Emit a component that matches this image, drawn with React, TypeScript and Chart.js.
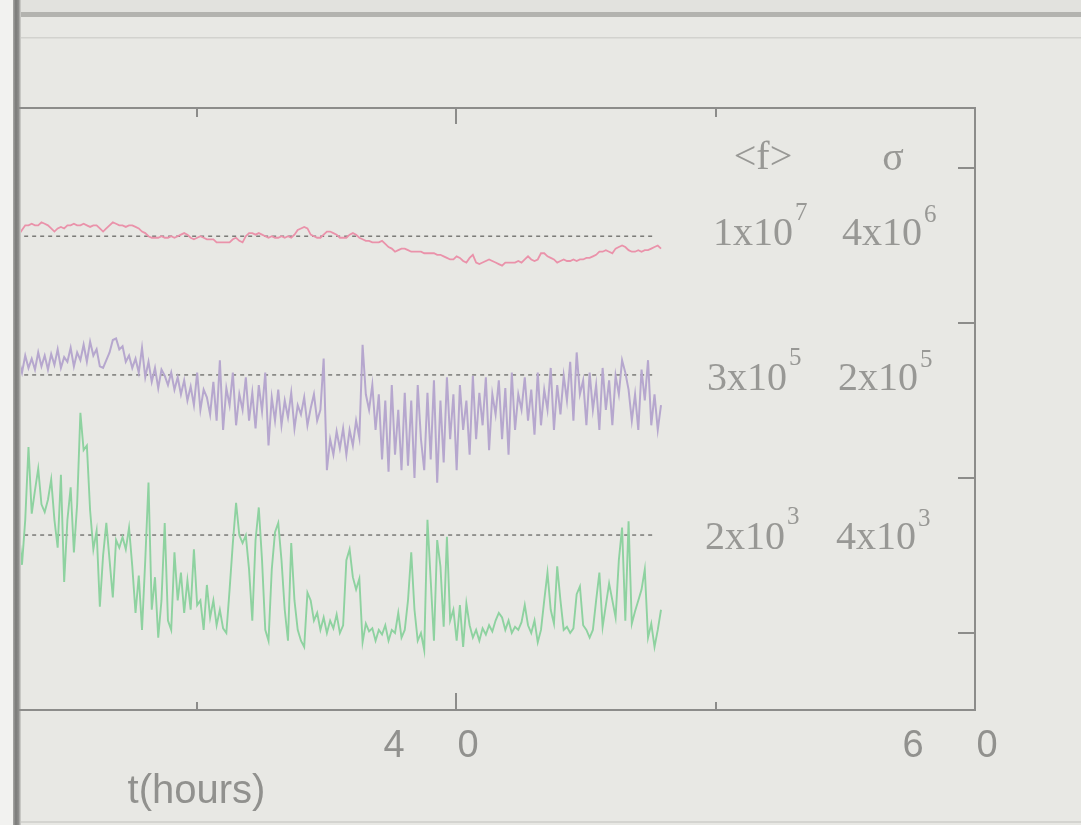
import React, { useEffect, useRef } from "react";
import { Chart, registerables } from "chart.js";

Chart.register(...registerables);

// ---- data (time in hours, values in arbitrary stacked log-flux units) ----
const T_START = 23.15;
const T_STEP = 0.125;

const pinkF = [
  25.7, 26.0, 26.3, 26.3, 26.4, 26.3, 26.3, 26.5, 26.4, 26.3,
  26.1, 25.9, 26.1, 26.2, 26.1, 26.3, 26.3, 26.4, 26.3, 26.3,
  26.4, 26.3, 26.2, 26.3, 26.3, 26.1, 25.9, 26.1, 26.3, 26.5,
  26.4, 26.3, 26.3, 26.2, 26.3, 26.3, 26.2, 26.1, 25.9, 25.8,
  25.6, 25.5, 25.5, 25.5, 25.6, 25.5, 25.5, 25.6, 25.5, 25.6,
  25.7, 25.8, 25.7, 25.5, 25.4, 25.5, 25.6, 25.5, 25.4, 25.4,
  25.4, 25.2, 25.2, 25.2, 25.2, 25.2, 25.4, 25.5, 25.3, 25.2,
  25.6, 25.8, 25.8, 25.7, 25.8, 25.7, 25.6, 25.5, 25.6, 25.5,
  25.5, 25.6, 25.5, 25.6, 25.5, 25.7, 26.0, 26.1, 26.2, 26.1,
  25.7, 25.6, 25.5, 25.5, 25.7, 25.9, 25.9, 25.8, 25.7, 25.5,
  25.5, 25.5, 25.7, 25.8, 25.7, 25.5, 25.4, 25.3, 25.3, 25.2,
  25.2, 25.2, 25.3, 25.1, 24.9, 24.8, 24.6, 24.7, 24.8, 24.8,
  24.7, 24.6, 24.6, 24.6, 24.6, 24.5, 24.5, 24.5, 24.5, 24.4,
  24.4, 24.3, 24.2, 24.1, 24.1, 24.3, 24.2, 24.0, 23.9, 24.2,
  24.4, 23.9, 23.8, 23.9, 24.0, 24.1, 24.0, 23.9, 23.8, 23.7,
  23.9, 23.9, 23.9, 23.9, 24.0, 23.9, 24.1, 24.3, 24.1, 24.0,
  24.1, 24.5, 24.5, 24.3, 24.2, 24.1, 23.9, 24.0, 24.1, 24.0,
  24.0, 24.1, 24.0, 24.1, 24.1, 24.2, 24.2, 24.3, 24.4, 24.6,
  24.6, 24.7, 24.6, 24.5, 24.8, 24.9, 25.0, 24.9, 24.7, 24.6,
  24.6, 24.7, 24.6, 24.7, 24.7, 24.8, 24.9, 25.0, 24.8,
];

const purpleF = [
  17.6, 16.8, 17.9, 17.1, 17.7, 17.0, 18.1, 17.2, 17.9, 17.0,
  18.0, 17.3, 18.3, 17.1, 17.8, 17.5, 18.4, 17.2, 18.1, 17.6,
  18.6, 17.5, 18.8, 17.9, 18.3, 17.2, 17.1, 17.6, 18.1, 18.9,
  19.0, 18.3, 18.5, 17.5, 17.9, 17.1, 17.7, 16.8, 18.4, 16.5,
  17.5, 16.2, 17.1, 15.8, 17.0, 16.6, 16.0, 16.8, 15.7, 16.5,
  15.4, 16.3, 15.0, 15.9, 14.7, 16.8, 14.4, 15.7, 15.2, 14.1,
  16.2, 13.7, 17.6, 13.1, 15.8, 14.7, 16.8, 13.4, 15.4, 14.4,
  16.5, 13.7, 15.5, 13.2, 16.0, 14.3, 16.8, 12.1, 15.2, 13.7,
  15.7, 13.4, 15.0, 13.9, 15.5, 13.2, 14.7, 14.1, 15.2, 13.4,
  14.5, 15.4, 13.7, 14.4, 17.7, 10.5, 12.5, 11.5, 13.0, 11.9,
  13.2, 11.5, 13.1, 12.1, 13.7, 12.6, 18.6, 15.4, 14.4, 16.0,
  13.1, 15.4, 11.2, 15.0, 10.4, 16.0, 11.5, 14.4, 10.5, 15.5,
  10.8, 15.0, 10.0, 16.0, 12.5, 10.5, 15.5, 11.2, 16.3, 9.7,
  15.0, 11.0, 16.5, 12.5, 15.4, 10.5, 16.0, 13.1, 15.0, 11.5,
  16.6, 12.5, 15.5, 13.4, 16.5, 11.8, 15.4, 14.1, 16.3, 12.5,
  15.8, 11.5, 16.8, 13.1, 15.4, 14.4, 16.5, 13.7, 15.7, 12.8,
  16.8, 13.4, 15.7, 14.4, 17.1, 13.1, 16.0, 14.1, 16.6, 15.0,
  17.5, 13.7, 18.1, 15.4, 16.3, 13.4, 16.8, 14.4, 16.0, 13.1,
  17.1, 14.4, 16.3, 13.4, 16.6, 15.4, 17.6, 16.8, 15.7, 13.7,
  15.4, 13.1, 17.0, 15.0, 17.6, 13.4, 15.4, 13.1, 14.7,
];

const greenF = [
  6.6, 4.4, 7.3, 12.0, 7.7, 9.2, 10.6, 8.3, 7.8, 8.6,
  9.9, 7.3, 5.5, 10.2, 3.3, 7.3, 9.4, 5.2, 8.3, 14.2,
  11.8, 12.1, 7.9, 5.4, 6.6, 1.7, 5.0, 7.1, 4.7, 2.3,
  6.0, 5.5, 6.2, 5.4, 6.8, 4.3, 1.3, 3.7, 0.2, 4.7,
  9.7, 1.5, 3.6, -0.3, 2.1, 7.1, 0.8, 0.2, 5.2, 2.1,
  3.9, 1.3, 3.4, 1.5, 5.4, 1.8, 2.1, 0.2, 3.1, 1.0,
  2.1, 0.5, 1.5, 0.3, 0.0, 2.8, 5.8, 8.4, 6.3, 5.8,
  6.3, 4.1, 0.8, 6.0, 8.1, 4.7, 0.2, -0.5, 4.1, 6.5,
  7.1, 4.7, 1.5, -0.5, 5.8, 2.1, 0.2, -0.5, -0.9, 2.6,
  2.1, 0.8, 1.3, 0.2, 1.0, 0.0, 0.8, 0.3, 1.2, 0.0,
  0.5, 4.7, 5.4, 3.6, 2.8, 3.5, -0.6, 0.6, 0.1, 0.3,
  -0.5, 0.2, -0.1, 0.5, -0.5, 0.2, 0.0, 1.3, -0.3, 0.2,
  2.1, 5.2, 1.5, -0.5, 0.0, -1.1, 7.3, 3.4, -0.5, 6.0,
  4.3, 0.4, 6.2, 0.8, 1.5, -0.5, 1.8, -0.9, 1.9, 0.5,
  -0.3, 0.2, -0.5, 0.3, -0.1, 0.5, 0.1, 0.8, 1.3, 1.0,
  0.2, 0.8, 0.0, 0.4, 0.2, 0.7, 1.8, 0.5, 0.0, 0.8,
  -0.6, 0.2, 2.1, 3.9, 1.5, 0.6, 4.3, 2.1, 0.2, 0.4,
  0.0, 0.3, 2.5, 3.0, 0.5, 0.2, -0.3, 0.2, 2.1, 3.9,
  0.4, 1.8, 3.2, 2.1, 1.0, 4.7, 6.8, 0.8, 7.2, 0.6,
  1.4, 2.1, 2.8, 4.1, -0.3, 0.6, -0.9, 0.2, 1.5,
];

// mean levels (dashed reference lines) for each series
const meanLevels = [25.6, 16.65, 6.32];
const meanEndT = 47.67;

// axis ticks
const xMajorTicks = [40, 60];
const xMajorLabels = ["40", "60"];
const xMinorTicks = [30, 50];
const yTicks = [0, 10, 20, 30];
const xTitle = "t(hours)";

// annotation table: mean flux <f> and sigma, mantissa and exponent
const fMantissa = ["1x10", "3x10", "2x10"];
const fExponent = ["7", "5", "3"];
const sMantissa = ["4x10", "2x10", "4x10"];
const sExponent = ["6", "5", "3"];

const COLORS = {
  pink: "rgb(234,146,170)",
  purple: "rgb(182,167,206)",
  green: "rgb(142,210,160)",
  dash: "rgb(105,105,102)",
  axis: "rgb(140,140,138)",
  text: "rgb(152,152,149)",
};

const toPoints = (vals: number[]) =>
  vals.map((v, i) => ({ x: T_START + i * T_STEP, y: v }));

const drawEdge = (ctx: CanvasRenderingContext2D, h: number) => {
  const g = ctx.createLinearGradient(13, 0, 21, 0);
  g.addColorStop(0, "#a8a8a6");
  g.addColorStop(0.35, "#7a7a78");
  g.addColorStop(0.7, "#8e8e8c");
  g.addColorStop(1, "#d6d6d2");
  ctx.fillStyle = g;
  ctx.fillRect(13, 0, 8, h);
};

const paperPlugin = {
  id: "paper",
  beforeDraw(chart: any) {
    const ctx = chart.ctx as CanvasRenderingContext2D;
    const w = chart.width;
    const h = chart.height;
    ctx.save();
    ctx.fillStyle = "#e8e8e4";
    ctx.fillRect(0, 0, w, h);
    ctx.fillStyle = "#e2e2de";
    ctx.fillRect(0, 0, w, 12);
    ctx.fillStyle = "#b3b3af";
    ctx.fillRect(0, 12, w, 5);
    ctx.fillStyle = "#d2d2ce";
    ctx.fillRect(0, 37, w, 1.5);
    ctx.fillStyle = "#d4d4d0";
    ctx.fillRect(0, 821, w, 2);
    ctx.fillStyle = "#f2f2f0";
    ctx.fillRect(0, 0, 13, h);
    drawEdge(ctx, h);
    ctx.restore();
  },
};

const framePlugin = {
  id: "frame",
  afterDatasetsDraw(chart: any) {
    const ctx = chart.ctx as CanvasRenderingContext2D;
    const { left, right, top, bottom } = chart.chartArea;
    const xs = chart.scales.x;
    const ys = chart.scales.y;
    ctx.save();
    drawEdge(ctx, chart.height);

    ctx.strokeStyle = COLORS.axis;
    ctx.lineWidth = 2;
    ctx.beginPath();
    ctx.moveTo(left, top);
    ctx.lineTo(right, top);
    ctx.lineTo(right, bottom);
    ctx.lineTo(left, bottom);
    ctx.stroke();

    ctx.beginPath();
    xMajorTicks.forEach((t) => {
      const px = Math.round(xs.getPixelForValue(t));
      ctx.moveTo(px, top);
      ctx.lineTo(px, top + 16);
      ctx.moveTo(px, bottom);
      ctx.lineTo(px, bottom - 17);
    });
    xMinorTicks.forEach((t) => {
      const px = Math.round(xs.getPixelForValue(t));
      ctx.moveTo(px, top);
      ctx.lineTo(px, top + 9);
      ctx.moveTo(px, bottom);
      ctx.lineTo(px, bottom - 8);
    });
    yTicks.forEach((t) => {
      const py = Math.round(ys.getPixelForValue(t));
      ctx.moveTo(right, py);
      ctx.lineTo(right - 17, py);
    });
    ctx.stroke();

    ctx.fillStyle = "rgb(145,145,142)";
    ctx.font = '38px "Liberation Sans", Arial, sans-serif';
    ctx.textAlign = "center";
    ctx.textBaseline = "alphabetic";
    xMajorTicks.forEach((t, i) => {
      const px = xs.getPixelForValue(t);
      const lab = xMajorLabels[i];
      ctx.fillText(lab[0], px - 62, bottom + 47);
      ctx.fillText(lab[1], px + 12, bottom + 47);
    });
    ctx.font = '40px "Liberation Sans", Arial, sans-serif';
    ctx.fillText(xTitle, xs.getPixelForValue(xMinorTicks[0]), bottom + 93);

    ctx.fillStyle = COLORS.text;
    ctx.textAlign = "center";
    ctx.font = '40px "Liberation Serif", "Times New Roman", serif';
    ctx.fillText("<f>", 763, top + 61);
    ctx.fillText("\u03c3", 893, top + 62);

    const rowBase = [245, 390, 549];
    const fLeft = [713, 707, 705];
    const sLeft = [842, 838, 836];
    ctx.textAlign = "left";
    for (let r = 0; r < 3; r++) {
      ctx.font = '40px "Liberation Serif", "Times New Roman", serif';
      ctx.fillText(fMantissa[r], fLeft[r], rowBase[r]);
      const fw = ctx.measureText(fMantissa[r]).width;
      ctx.fillText(sMantissa[r], sLeft[r], rowBase[r]);
      const sw = ctx.measureText(sMantissa[r]).width;
      ctx.font = '25px "Liberation Serif", "Times New Roman", serif';
      ctx.fillText(fExponent[r], fLeft[r] + fw + 2, rowBase[r] - 25);
      ctx.fillText(sExponent[r], sLeft[r] + sw + 2, rowBase[r] - 23);
    }
    ctx.restore();
  },
};

export default function App() {
  const canvasRef = useRef<HTMLCanvasElement | null>(null);

  useEffect(() => {
    const canvas = canvasRef.current;
    if (!canvas) return;
    const dashed = (y: number) => ({
      data: [
        { x: T_START - 0.1, y },
        { x: meanEndT, y },
      ],
      borderColor: COLORS.dash,
      borderWidth: 1.3,
      borderDash: [4, 4],
      pointRadius: 0,
      order: 5,
    });
    const chart = new Chart(canvas, {
      type: "line",
      data: {
        datasets: [
          {
            data: toPoints(pinkF),
            borderColor: COLORS.pink,
            borderWidth: 1.8,
            pointRadius: 0,
            order: 1,
          },
          {
            data: toPoints(purpleF),
            borderColor: COLORS.purple,
            borderWidth: 2,
            pointRadius: 0,
            order: 1,
          },
          {
            data: toPoints(greenF),
            borderColor: COLORS.green,
            borderWidth: 1.9,
            pointRadius: 0,
            order: 1,
          },
          dashed(meanLevels[0]),
          dashed(meanLevels[1]),
          dashed(meanLevels[2]),
        ],
      },
      options: {
        responsive: false,
        animation: false,
        devicePixelRatio: 1,
        layout: { padding: { left: 18, top: 108, right: 106, bottom: 115 } },
        plugins: {
          legend: { display: false },
          tooltip: { enabled: false },
        },
        elements: { line: { tension: 0 }, point: { radius: 0 } },
        scales: {
          x: { type: "linear", min: 23.121, max: 60, display: false },
          y: { type: "linear", min: -4.968, max: 33.871, display: false },
        },
      },
      plugins: [paperPlugin, framePlugin],
    } as any);
    return () => chart.destroy();
  }, []);

  return (
    <div
      style={{
        position: "fixed",
        left: 0,
        top: 0,
        width: 1081,
        height: 825,
        overflow: "hidden",
      }}
    >
      <canvas
        ref={canvasRef}
        width={1081}
        height={825}
        style={{ display: "block", width: 1081, height: 825 }}
      />
    </div>
  );
}
